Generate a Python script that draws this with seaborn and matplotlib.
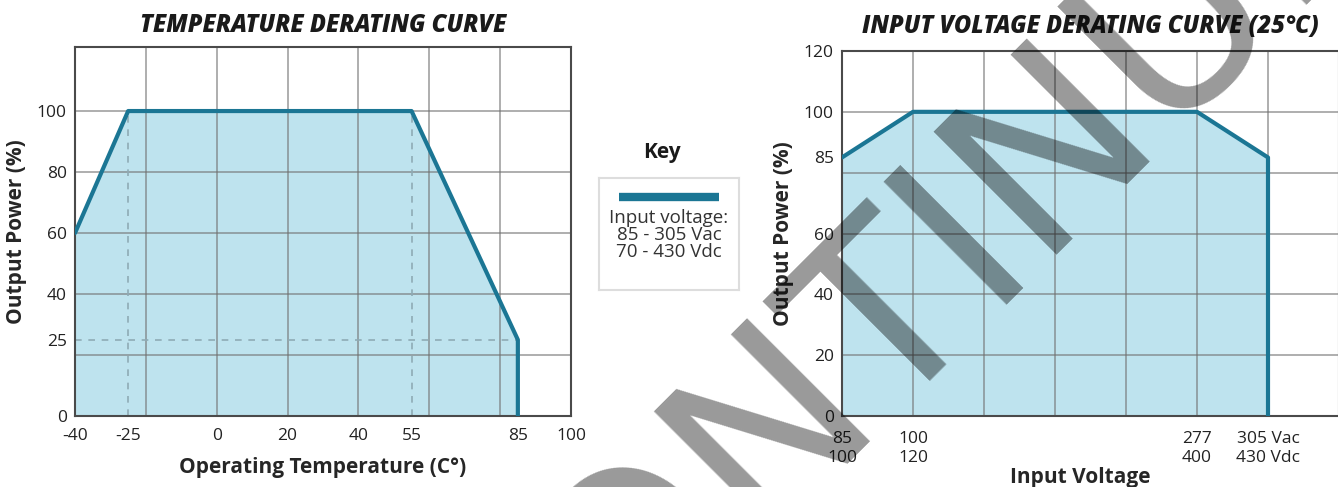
# import the libraries
import seaborn as sns
import matplotlib.pyplot as plt

# temperature derating curve
temp_c = [-40, -25, 55, 85, 85]
temp_power = [60, 100, 100, 25, 0]
temp_ticks = [-40, -25, 0, 20, 40, 55, 85, 100]
temp_grid = [-40, -20, 0, 20, 40, 60, 80, 100]
temp_yticks = [0, 25, 40, 60, 80, 100]
temp_ygrid = [0, 20, 40, 60, 80, 100]
temp_guide_x = [-25, 55]
temp_guide_y = 25

# input voltage derating curve (x is the grid column)
volt_pos = [0, 1, 5, 6, 6]
volt_power = [85, 100, 100, 85, 0]
volt_tick_pos = [0, 1, 5, 6]
volt_tick_labels = ["85\n100", "100\n120", "277\n400", "305 Vac\n430 Vdc"]
volt_grid = [0, 1, 2, 3, 4, 5, 6, 7]
volt_yticks = [0, 20, 40, 60, 85, 100, 120]
volt_ygrid = [0, 20, 40, 60, 80, 100, 120]

LINE = "#1b7694"
FILL = "#bee3ee"
GRID = "#6f6f6f"

# set the theme, then the font list
sns.set_theme(style="white")
plt.rcParams["font.family"] = ["Open Sans", "DejaVu Sans"]
plt.rcParams["text.color"] = "#1a1a1a"
plt.rcParams["axes.unicode_minus"] = False

fig = plt.figure(figsize=(13.38, 4.87), dpi=100)
W, H = 1338, 487


def px_axes(left, top, right, bottom):
    return fig.add_axes([left / W, 1 - bottom / H, (right - left) / W, (bottom - top) / H])


def style_axes(ax):
    ax.xaxis.remove_overlapping_locs = False
    ax.yaxis.remove_overlapping_locs = False
    ax.grid(which="major", visible=False)
    ax.grid(which="minor", color=GRID, alpha=0.65, lw=1.2)
    ax.tick_params(which="both", length=0, labelsize=12.5, colors="#222222", pad=6)
    ax.tick_params(axis="x", pad=9)
    for s in ax.spines.values():
        s.set_color("#4a4a4a")
        s.set_linewidth(1.5)


# left chart
ax1 = px_axes(75, 47, 571, 416)
ax1.fill_between(temp_c, temp_power, color=FILL, zorder=0)
sns.lineplot(x=temp_c, y=temp_power, sort=False, estimator=None, color=LINE, lw=3, ax=ax1, zorder=3)
for gx in temp_guide_x:
    ax1.plot([gx, gx], [0, 100], ls=(0, (4, 4)), color="#8fabb5", lw=1.2, zorder=2)
ax1.plot([-40, 85], [temp_guide_y, temp_guide_y], ls=(0, (4, 4)), color="#8fabb5", lw=1.2, zorder=2)
ax1.set_xlim(-40, 100)
ax1.set_ylim(0, 121)
ax1.set_xticks(temp_ticks)
ax1.set_xticks(temp_grid, minor=True)
ax1.set_yticks(temp_yticks)
ax1.set_yticks(temp_ygrid, minor=True)
style_axes(ax1)
ax1.set_title("TEMPERATURE DERATING CURVE", fontsize=17, fontweight="heavy", style="italic", pad=11)
ax1.set_xlabel("Operating Temperature (C°)", fontsize=15, fontweight="bold", labelpad=9)
ax1.set_ylabel("Output Power (%)", fontsize=15, fontweight="bold", labelpad=7)

# right chart
ax2 = px_axes(842, 51, 1339, 416)
ax2.fill_between(volt_pos, volt_power, color=FILL, zorder=0)
sns.lineplot(x=volt_pos, y=volt_power, sort=False, estimator=None, color=LINE, lw=3, ax=ax2, zorder=3)
ax2.set_xlim(0, 7)
ax2.set_ylim(0, 120)
ax2.set_xticks(volt_tick_pos, volt_tick_labels)
ax2.set_xticks(volt_grid, minor=True)
ax2.set_yticks(volt_yticks)
ax2.set_yticks(volt_ygrid, minor=True)
style_axes(ax2)
ax2.tick_params(axis="x", pad=11)
ax2.set_title("INPUT VOLTAGE DERATING CURVE (25°C)", fontsize=17, fontweight="heavy", style="italic", pad=13)
ax2.set_xlabel("Input Voltage", fontsize=15, fontweight="bold")
ax2.set_ylabel("Output Power (%)", fontsize=15, fontweight="bold", labelpad=7)
ax2.xaxis.set_label_coords(0.48, -0.14)

# key box
kax = px_axes(599, 178, 739, 290)
kax.set_xlim(0, 1)
kax.set_ylim(0, 1)
kax.set_xticks([])
kax.set_yticks([])
for s in kax.spines.values():
    s.set_color("#dddddd")
    s.set_linewidth(1.5)
kax.plot([0.14, 0.86], [0.83, 0.83], color=LINE, lw=6, solid_capstyle="butt")
kax.text(0.5, 0.49, "Input voltage:\n85 - 305 Vac\n70 - 430 Vdc", ha="center", va="center",
         fontsize=13.5, color="#333333", linespacing=0.95)
fig.text(662 / W, 1 - 153 / H, "Key", ha="center", va="center", fontsize=15, fontweight="bold")

# watermark
fig.text(869 / W, 1 - 420 / H, "DISCONTINUED", rotation=45, rotation_mode="anchor", ha="center",
         va="baseline", fontsize=172, color="black", alpha=0.4, family="DejaVu Sans", zorder=10)

fig.savefig("out.png", dpi=100)
